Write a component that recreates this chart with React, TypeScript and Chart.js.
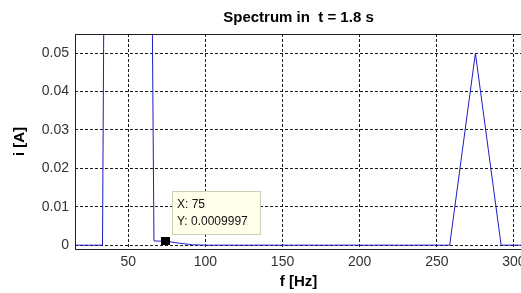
import React, { useEffect, useRef } from 'react';
import { Chart, registerables } from 'chart.js';

Chart.register(...registerables);

// Spectrum data (frequency in Hz, amplitude in A)
const freqHz = [
  0, 8.33, 16.67, 25, 33.33, 41.67, 50, 58.33, 66.67, 75, 83.33, 91.67, 100,
  108.33, 116.67, 125, 133.33, 141.67, 150, 158.33, 166.67, 175, 183.33, 191.67,
  200, 208.33, 216.67, 225, 233.33, 241.67, 250, 258.33, 266.67, 275, 283.33,
  291.67, 300, 308.33,
];
const ampA = [
  0, 0, 0, 0, 0, 0.6, 1.2, 0.45, 0.0011, 0.0009997, 0.0005, 0.0001, 0,
  0, 0, 0, 0, 0, 0, 0, 0, 0, 0, 0,
  0, 0, 0, 0, 0, 0, 0, 0, 0.025, 0.05, 0.025,
  0, 0, 0,
];

const xTickValues = [50, 100, 150, 200, 250, 300];
const yTickValues = [0, 0.01, 0.02, 0.03, 0.04, 0.05];
const yTickLabels = ['0', '0.01', '0.02', '0.03', '0.04', '0.05'];

const xMin = 15.5;
const xMax = 305.2;
const yMin = -0.001;
const yMax = 0.055;

const tipX = 75;
const tipY = 0.0009997;

const titleText = 'Spectrum in  t = 1.8 s';
const xTitle = 'f [Hz]';
const yTitle = 'i [A]';

const FONT = "'Liberation Sans', Arial, Helvetica, sans-serif";

const framePlugin = {
  id: 'frame',
  afterDatasetsDraw(chart: any) {
    const { ctx, chartArea: a } = chart;
    ctx.save();
    ctx.setLineDash([]);
    ctx.strokeStyle = '#202020';
    ctx.lineWidth = 1;
    const l = Math.round(a.left) + 0.5;
    const t = Math.round(a.top) + 0.5;
    const r = Math.round(a.right) + 0.5;
    const b = Math.round(a.bottom) + 0.5;
    ctx.strokeRect(l, t, r - l, b - t);
    ctx.restore();
  },
};

const datatipPlugin = {
  id: 'datatip',
  afterDatasetsDraw(chart: any) {
    const { ctx } = chart;
    const px = Math.round(chart.scales.x.getPixelForValue(tipX));
    const py = Math.round(chart.scales.y.getPixelForValue(tipY));
    ctx.save();
    // marker
    ctx.fillStyle = '#000';
    ctx.fillRect(px - 6, py - 4, 9, 8);
    // box
    const bx = px + 5;
    const by = py - 50;
    const bw = 89;
    const bh = 44;
    ctx.fillStyle = '#ffffea';
    ctx.fillRect(bx, by, bw, bh);
    ctx.strokeStyle = '#cfcfb8';
    ctx.lineWidth = 1;
    ctx.strokeRect(bx + 0.5, by + 0.5, bw - 1, bh - 1);
    ctx.fillStyle = '#111';
    ctx.font = `12px ${FONT}`;
    ctx.textBaseline = 'middle';
    ctx.textAlign = 'left';
    ctx.fillText(`X: ${tipX}`, bx + 5, by + 14);
    ctx.fillText(`Y: ${tipY}`, bx + 5, by + 31);
    ctx.restore();
  },
};

export default function App() {
  const canvasRef = useRef<HTMLCanvasElement | null>(null);

  useEffect(() => {
    const canvas = canvasRef.current;
    if (!canvas) return;
    const points = freqHz.map((f, i) => ({ x: f, y: ampA[i] }));
    const chart = new Chart(canvas, {
      type: 'line',
      data: {
        datasets: [
          {
            data: points,
            borderColor: '#1c1cc8',
            borderWidth: 1,
            pointRadius: 0,
            fill: false,
            tension: 0,
          },
        ],
      },
      options: {
        responsive: false,
        maintainAspectRatio: false,
        devicePixelRatio: 1,
        animation: false,
        events: [],
        layout: { padding: { left: 0, right: 2, top: 0, bottom: 0 } },
        plugins: {
          legend: { display: false },
          tooltip: { enabled: false },
          title: {
            display: true,
            text: titleText,
            fullSize: false,
            color: '#000',
            font: { family: FONT, size: 15, weight: 'bold' },
            padding: { top: 9, bottom: 7 },
          },
        },
        scales: {
          x: {
            type: 'linear',
            min: xMin,
            max: xMax,
            afterBuildTicks: (scale: any) => {
              scale.ticks = xTickValues.map((v) => ({ value: v }));
            },
            afterFit: (scale: any) => {
              scale.height = 44;
              scale.paddingLeft = 0;
              scale.paddingRight = 0;
            },
            ticks: {
              autoSkip: false,
              maxRotation: 0,
              padding: 5,
              color: '#333',
              font: { family: FONT, size: 14 },
              callback: (v: any) => String(v),
            },
            grid: {
              color: '#1a1a1a',
              lineWidth: 1,
              drawTicks: false,
            },
            border: { display: false, dash: [3, 2] },
            title: {
              display: true,
              text: xTitle,
              color: '#000',
              font: { family: FONT, size: 15, weight: 'bold' },
              padding: { top: 0, bottom: 2.5 },
            },
          },
          y: {
            type: 'linear',
            min: yMin,
            max: yMax,
            afterBuildTicks: (scale: any) => {
              scale.ticks = yTickValues.map((v) => ({ value: v }));
            },
            afterFit: (scale: any) => {
              scale.width = 75;
              scale.paddingTop = 0;
              scale.paddingBottom = 0;
            },
            ticks: {
              autoSkip: false,
              padding: 6,
              color: '#333',
              font: { family: FONT, size: 14 },
              callback: (v: any) => {
                const i = yTickValues.indexOf(v);
                return i >= 0 ? yTickLabels[i] : '';
              },
            },
            grid: {
              color: '#1a1a1a',
              lineWidth: 1,
              drawTicks: false,
            },
            border: { display: false, dash: [3, 2] },
            title: {
              display: true,
              text: yTitle,
              color: '#000',
              font: { family: FONT, size: 15, weight: 'bold' },
              padding: { top: 11, bottom: 0 },
            },
          },
        },
      },
      plugins: [framePlugin, datatipPlugin],
    } as any);
    return () => chart.destroy();
  }, []);

  return (
    <div
      style={{
        position: 'fixed',
        left: 0,
        top: 0,
        width: 521,
        height: 293,
        overflow: 'hidden',
        background: '#fff',
      }}
    >
      <canvas
        ref={canvasRef}
        width={524}
        height={293}
        style={{ display: 'block', width: 524, height: 293 }}
      />
    </div>
  );
}
